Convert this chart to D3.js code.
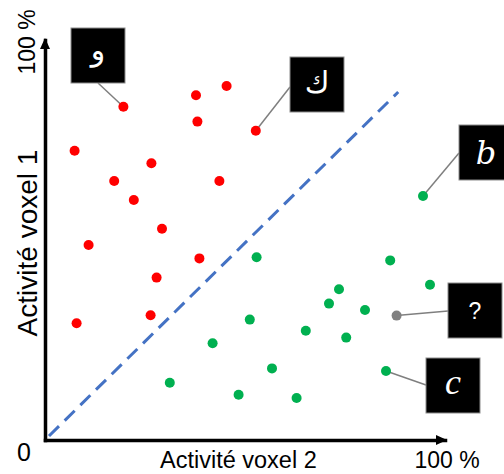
<!DOCTYPE html>
<html>
<head>
<meta charset="utf-8">
<script src="https://cdn.jsdelivr.net/npm/d3@7"></script>
<style>
  html, body { margin: 0; padding: 0; background: #fff; overflow: hidden; }
  svg { display: block; }
</style>
</head>
<body>
<script>
// ---- data ----
const redX   = [19.6, 37.75, 45.4, 38.1, 52.7, 7.4, 26.6, 17.3, 43.6, 22.2, 29.25, 10.9, 38.6, 27.9, 26.4, 7.9];
const redY   = [83.3, 86.2, 88.5, 79.6, 77.3, 72.3, 69.2, 64.75, 64.75, 60, 52.8, 48.75, 45.4, 40.6, 31.2, 29.2];
const greenX = [94.5, 52.9, 86.3, 96.25, 73.5, 71, 80, 51.2, 65.2, 75.3, 41.9, 56.75, 85.25, 31.2, 48.4, 62.9];
const greenY = [61, 45.7, 44.9, 38.8, 37.7, 34.1, 32.5, 30.1, 27.3, 25.6, 24.2, 17.9, 17.25, 14.3, 11.3, 10.5];
const grayX  = [87.9];
const grayY  = [31.1];
const diagX  = [1, 88.3];
const diagY  = [1, 87];
const axisLabels = ["0", "100 %", "100 %", "Activité voxel 2", "Activité voxel 1"];
// annotations: label, which series, index in series
const annLabels = ["و", "ك", "b", "?", "c"];
const annSeries = ["red", "red", "green", "gray", "green"];
const annIndex  = [0, 4, 0, 0, 12];

// ---- layout ----
const W = 504, H = 474;
const svg = d3.select("body").append("svg").attr("width", W).attr("height", H);
const x = d3.scaleLinear().domain([0, 100]).range([45, 445]);
const y = d3.scaleLinear().domain([0, 100]).range([440, 40]);

const series = {
  red:   { xs: redX,   ys: redY,   color: "#ff0000" },
  green: { xs: greenX, ys: greenY, color: "#00b050" },
  gray:  { xs: grayX,  ys: grayY,  color: "#808080" }
};

// box layout (top-left corner, size) and leader anchor on the box
const boxW = 54, boxH = 55;
const boxPos = [
  { bx: 71,  by: 28,  ax: 98,  ay: 83  },
  { bx: 290, by: 57,  ax: 290, ay: 87  },
  { bx: 459, by: 125, ax: 459, ay: 153 },
  { bx: 448, by: 283, ax: 448, ay: 311 },
  { bx: 426, by: 358, ax: 426, ay: 385 }
];
const glyphStyle = [
  { font: "'DejaVu Sans', sans-serif", size: 30, style: "normal", dy: 4 },
  { font: "'DejaVu Sans', sans-serif", size: 30, style: "normal", dy: 8 },
  { font: "'DejaVu Serif', serif", size: 32, style: "italic", dy: 11 },
  { font: "'Liberation Sans', sans-serif", size: 23, style: "normal", dy: 8 },
  { font: "'Liberation Serif', serif", size: 36, style: "italic", dy: 8 }
];

// ---- diagonal dashed line ----
const diag = diagX.map((d, i) => [d, diagY[i]]);
svg.append("path")
  .attr("d", d3.line().x(d => x(d[0])).y(d => y(d[1]))(diag))
  .attr("fill", "none")
  .attr("stroke", "#4472c4")
  .attr("stroke-width", 3)
  .attr("stroke-dasharray", "14,8");

// ---- axes ----
const xAxis = svg.append("g").attr("transform", `translate(0,${y(0)})`)
  .call(d3.axisBottom(x).tickValues([]).tickSizeOuter(0));
const yAxis = svg.append("g").attr("transform", `translate(${x(0)},0)`)
  .call(d3.axisLeft(y).tickValues([]).tickSizeOuter(0));
[xAxis, yAxis].forEach(g => g.select(".domain")
  .attr("stroke", "#000").attr("stroke-width", 3.5).attr("stroke-linecap", "square"));
// arrowheads
svg.append("path")
  .attr("d", `M${x(100) + 2},${y(0)} L${x(100) - 9},${y(0) - 5} L${x(100) - 9},${y(0) + 5} Z`)
  .attr("fill", "#000");
svg.append("path")
  .attr("d", `M${x(0)},${y(100) - 2} L${x(0) - 5},${y(100) + 9} L${x(0) + 5},${y(100) + 9} Z`)
  .attr("fill", "#000");

// ---- axis texts ----
const tf = "'Liberation Sans', Arial, sans-serif";
svg.append("text").text(axisLabels[0])
  .attr("x", 24).attr("y", 461).attr("text-anchor", "middle")
  .attr("font-family", tf).attr("font-size", 25).attr("fill", "#000");
svg.append("text").text(axisLabels[1])
  .attr("x", 447).attr("y", 468).attr("text-anchor", "middle")
  .attr("font-family", tf).attr("font-size", 23).attr("fill", "#000");
svg.append("text").text(axisLabels[2])
  .attr("transform", "translate(35,42) rotate(-90)").attr("text-anchor", "middle")
  .attr("font-family", tf).attr("font-size", 23).attr("fill", "#000");
svg.append("text").text(axisLabels[3])
  .attr("x", 160).attr("y", 468).attr("text-anchor", "start")
  .attr("font-family", tf).attr("font-size", 23.5).attr("fill", "#000");
svg.append("text").text(axisLabels[4])
  .attr("transform", "translate(37,243) rotate(-90)").attr("text-anchor", "middle")
  .attr("font-family", tf).attr("font-size", 28).attr("fill", "#000");

// ---- leader lines ----
annLabels.forEach((lab, i) => {
  const s = series[annSeries[i]];
  const px = x(s.xs[annIndex[i]]), py = y(s.ys[annIndex[i]]);
  svg.append("line")
    .attr("x1", px).attr("y1", py)
    .attr("x2", boxPos[i].ax).attr("y2", boxPos[i].ay)
    .attr("stroke", "#7f7f7f").attr("stroke-width", 1.5);
});

// ---- points ----
Object.values(series).forEach(s => {
  svg.append("g").selectAll("circle")
    .data(s.xs.map((d, i) => [d, s.ys[i]]))
    .join("circle")
    .attr("cx", d => x(d[0])).attr("cy", d => y(d[1]))
    .attr("r", 5).attr("fill", s.color);
});

// ---- annotation boxes ----
annLabels.forEach((lab, i) => {
  const b = boxPos[i], g = glyphStyle[i];
  svg.append("rect")
    .attr("x", b.bx).attr("y", b.by).attr("width", boxW).attr("height", boxH)
    .attr("fill", "#000").attr("stroke", "#8c8c8c").attr("stroke-width", 1);
  svg.append("text").text(lab)
    .attr("x", b.bx + boxW / 2).attr("y", b.by + boxH / 2 + g.dy)
    .attr("text-anchor", "middle")
    .attr("font-family", g.font).attr("font-size", g.size).attr("font-style", g.style)
    .attr("fill", "#fff");
});
</script>
</body>
</html>
